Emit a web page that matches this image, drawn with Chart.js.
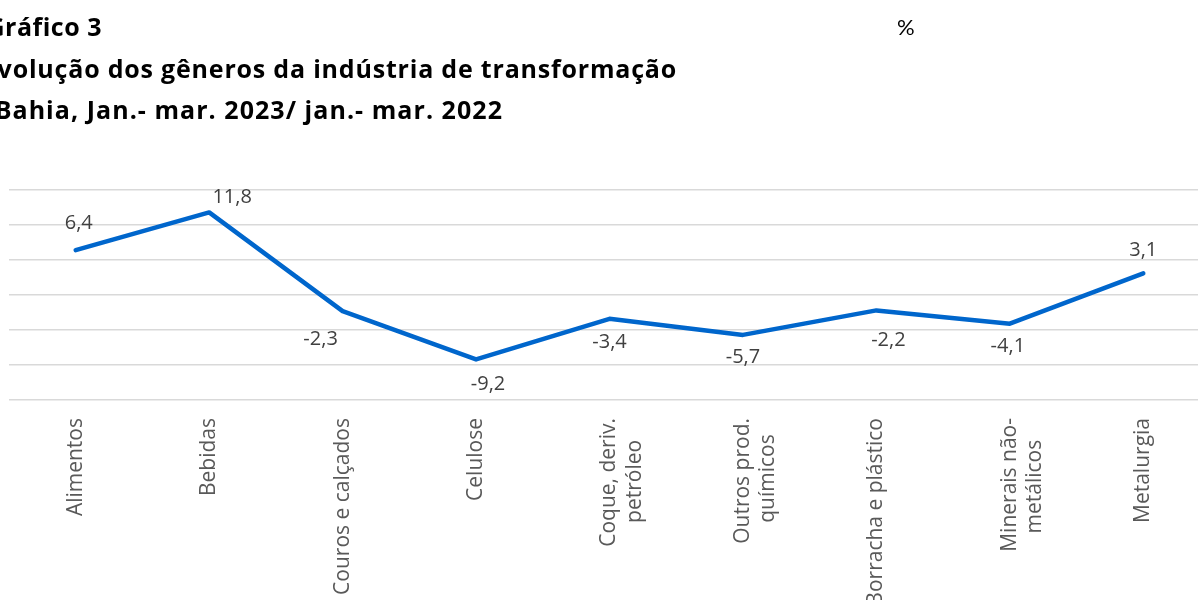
<!DOCTYPE html>
<html>
<head>
<meta charset="utf-8">
<script src="https://cdn.jsdelivr.net/npm/chart.js@4/dist/chart.umd.min.js"></script>
<style>
  html, body { margin: 0; padding: 0; background: #fff; }
  body { width: 1198px; height: 600px; overflow: hidden; position: relative; }
  .title { position: absolute; white-space: nowrap; font-family: "Open Sans", sans-serif; font-weight: 700; font-size: 25px; letter-spacing: 0.8px; line-height: 30px; color: #000; }
  .pct { position: absolute; left: 897px; top: 13px; font-family: Lato, sans-serif; font-size: 22px; line-height: 28px; color: #000; }
  #wrap { position: absolute; left: 0; top: 0; }
</style>
</head>
<body>
<div id="wrap"><canvas id="chart" width="1220" height="600"></canvas></div>
<div class="title" style="right:1096px; top:11px; letter-spacing:0.5px;">Gráfico 3</div>
<div class="title" style="right:521px; top:53px;">Evolução dos gêneros da indústria de transformação</div>
<div class="title" style="right:695px; top:94px; letter-spacing:1.05px;">Bahia, Jan.- mar. 2023/ jan.- mar. 2022</div>
<div class="pct">%</div>
<script>
const categories = [
  'Alimentos',
  'Bebidas',
  'Couros e calçados',
  'Celulose',
  ['Coque, deriv.', 'petróleo'],
  ['Outros prod.', 'químicos'],
  'Borracha e plástico',
  ['Minerais não-', 'metálicos'],
  'Metalurgia'
];
const variation = [6.4, 11.8, -2.3, -9.2, -3.4, -5.7, -2.2, -4.1, 3.1];
const yTicks = [-15, -10, -5, 0, 5, 10, 15];

// where each value label sits relative to its point (px)
const labelOffsets = [[3, -27], [23, -15], [-22, 28], [12, 25], [0, 23], [0, 22], [12, 30], [-2, 23], [0, -23]];

const tickFont = '21px "Open Sans"';

const valueLabels = {
  id: 'valueLabels',
  afterDatasetsDraw(chart) {
    const ctx = chart.ctx;
    const meta = chart.getDatasetMeta(0);
    ctx.save();
    ctx.font = '20px "Open Sans"';
    ctx.fillStyle = '#404040';
    ctx.textAlign = 'center';
    ctx.textBaseline = 'middle';
    meta.data.forEach((pt, i) => {
      const [dx, dy] = labelOffsets[i];
      const txt = variation[i].toFixed(1).replace('.', ',');
      ctx.fillText(txt, pt.x + dx, pt.y + dy);
    });
    ctx.restore();
  }
};

// rotated multi-line labels: pad shorter lines so they sit centred like Excel
function centreLines(index) {
  const lbl = categories[index];
  if (!Array.isArray(lbl)) return lbl;
  const ctx = document.createElement('canvas').getContext('2d');
  ctx.font = tickFont;
  const widths = lbl.map(s => ctx.measureText(s).width);
  const maxW = Math.max(...widths);
  const sp = ctx.measureText(' ').width;
  return lbl.map((s, i) => s + ' '.repeat(Math.round((maxW - widths[i]) / 2 / sp)));
}

new Chart(document.getElementById('chart'), {
  type: 'line',
  data: {
    labels: categories,
    datasets: [{
      data: variation,
      borderColor: '#0066cc',
      borderWidth: 4.5,
      borderCapStyle: 'round',
      borderJoinStyle: 'round',
      pointRadius: 0,
      tension: 0,
      fill: false
    }]
  },
  plugins: [valueLabels],
  options: {
    responsive: false,
    animation: false,
    layout: { padding: { left: 9, right: 10, top: 190, bottom: 0 } },
    plugins: {
      legend: { display: false },
      tooltip: { enabled: false }
    },
    scales: {
      x: {
        offset: true,
        grid: { display: false, drawTicks: false },
        border: { display: false },
        ticks: {
          autoSkip: false,
          minRotation: 90,
          maxRotation: 90,
          padding: 18,
          color: '#595959',
          font: { family: 'Open Sans', size: 21, lineHeight: 1.2 },
          callback: (value, index) => centreLines(index)
        },
        afterFit(scale) { scale.height = 200; }
      },
      y: {
        min: yTicks[0],
        max: yTicks[yTicks.length - 1],
        afterBuildTicks(scale) { scale.ticks = yTicks.map(v => ({ value: v })); },
        grid: { color: '#d9d9d9', lineWidth: 1.5, drawTicks: false },
        border: { display: false },
        ticks: { display: false }
      }
    }
  }
});
</script>
</body>
</html>
